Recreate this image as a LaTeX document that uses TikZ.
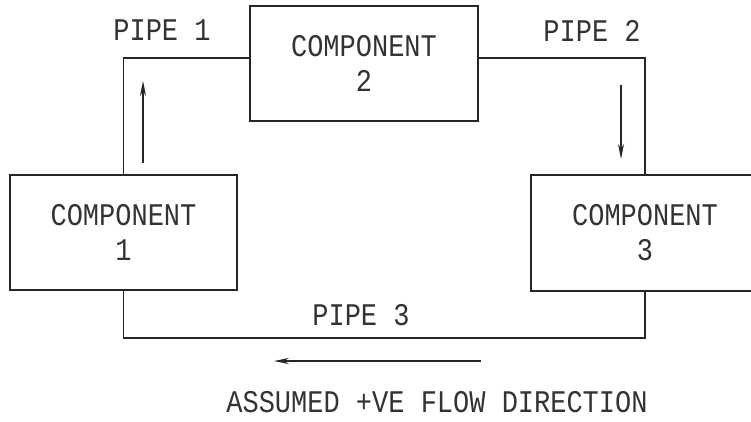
\documentclass[tikz,border=0pt]{standalone}
\usepackage{fontspec}
\newfontfamily\lbl[FakeStretch=0.857]{Liberation Mono}
\usetikzlibrary{arrows.meta}
\begin{document}
\begin{tikzpicture}[x=1pt,y=-1pt,
  comp/.style={draw=black!85, line width=1.8pt, inner sep=0pt, align=center,
    font={\lbl\fontsize{31.5}{35}\selectfont}, text=black!80},
  pipe/.style={draw=black!85, line width=1.8pt},
  flow/.style={draw=black!85, line width=1.1pt, -{Stealth[length=15pt,width=6pt]}},
  lab/.style={inner sep=0pt, font={\lbl\fontsize{31.5}{35}\selectfont}, text=black!80}]
\clip (0,0) rectangle (751,422);
\fill[white] (0,0) rectangle (751,422);
% components
\node[comp, minimum width=227pt, minimum height=115pt] (c1) at (123.5,232.5) {COMPONENT\\1};
\node[comp, minimum width=228pt, minimum height=115pt] (c2) at (364,63.5) {COMPONENT\\2};
\node[comp, minimum width=228pt, minimum height=116pt] (c3) at (645,233) {COMPONENT\\3};
% pipes
\coordinate (p3) at (400,338);
\draw[pipe] (c1.north) |- ([yshift=5.5pt]c2.west);
\draw[pipe] ([yshift=5.5pt]c2.east) -| (c3.north);
\draw[pipe] (c1.south) -- (c1.south |- p3) -| (c3.south);
% labels
\node[lab] (l1) at (162,30.5) {PIPE 1};
\node[lab] (l2) at (592,30.5) {PIPE 2};
\node[lab] (l3) at (361,315) {PIPE 3};
\node[lab] (l4) at (437,402.5) {ASSUMED +VE FLOW DIRECTION};
% flow arrows
\coordinate (a1s) at (143,163);
\coordinate (a1e) at (143,81);
\coordinate (a2s) at (621,85);
\coordinate (a2e) at (621,159);
\coordinate (a3s) at (481,361);
\coordinate (a3e) at (274,361);
\draw[flow] (a1s) -- (a1e);
\draw[flow] (a2s) -- (a2e);
\draw[flow] (a3s) -- (a3e);
\end{tikzpicture}
\end{document}
